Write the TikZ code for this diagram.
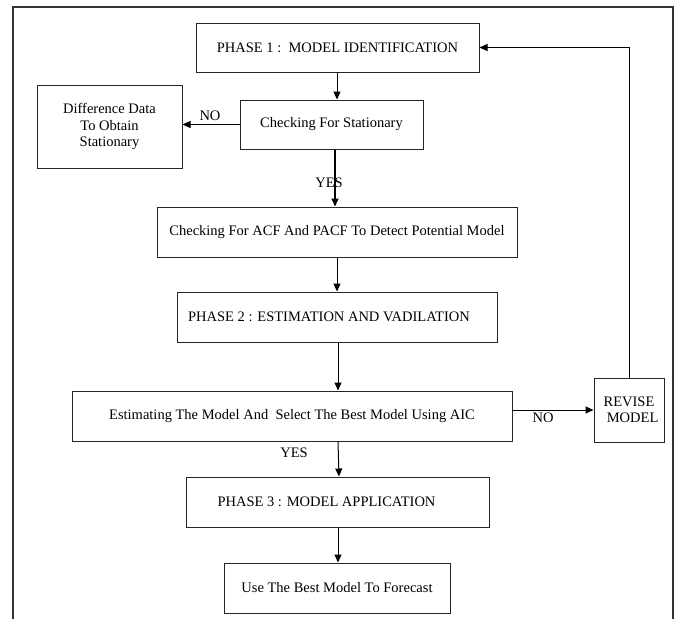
\documentclass[tikz,border=0pt]{standalone}
\usepackage{fontspec}
\setmainfont{Liberation Serif}
\usetikzlibrary{arrows.meta}
\begin{document}
\begin{tikzpicture}[x=1pt,y=-1pt,
  box/.style={draw=black!85,line width=1pt,inner sep=0pt,align=center,font=\fontsize{14.5}{16.5}\selectfont},
  arr/.style={draw=black,line width=1pt,-{Triangle[length=8pt,width=7pt]}},
  lbl/.style={inner sep=0pt,font=\fontsize{14.5}{16.5}\selectfont}]
\useasboundingbox (0,0) rectangle (675,619);
\draw[black!80,line width=1.2pt] (13,619) -- (13,7) -- (673,7) -- (673,619);
\node[box,minimum width=283,minimum height=49] (p1) at (337.5,47.5) {PHASE 1 :\ \ MODEL IDENTIFICATION};
\node[box,minimum width=145,minimum height=83] (diff) at (109.5,126.5) {Difference Data\\To Obtain\\Stationary};
\node[box,minimum width=183,minimum height=49] (chk) at (331.5,124.5) {Checking For Stationary};
\node[box,minimum width=360,minimum height=50] (acf) at (337,232) {Checking For ACF And PACF To Detect Potential Model};
\node[box,minimum width=320,minimum height=50] (p2) at (337,317) {PHASE 2 : ESTIMATION AND VADILATION\hspace{16pt}};
\node[box,minimum width=440,minimum height=50] (est) at (292,416) {Estimating The Model And\ \ Select The Best Model Using AIC};
\node[box,minimum width=70,minimum height=64] (rev) at (629,410) {REVISE\\\ \ MODEL};
\node[box,minimum width=303,minimum height=50] (p3) at (337.5,502) {PHASE 3 : MODEL APPLICATION\hspace{22pt}};
\node[box,minimum width=226,minimum height=50] (fc) at (337,588) {Use The Best Model To Forecast};
\node[lbl] (no1) at (210,116) {NO};
\node[lbl] (yes1) at (329,183) {YES};
\node[lbl] (no2) at (543,418) {NO};
\node[lbl] (yes2) at (294,453) {YES};
\draw[arr] (p1.south -| 337,0) -- (chk.north -| 337,0);
\draw[arr] (chk.west) -- (diff.east |- chk.west);
\draw[arr,line width=1.8pt] (chk.south -| 335,0) -- (acf.north -| 335,0);
\draw[arr] (acf.south -| 337,0) -- (p2.north -| 337,0);
\draw[arr] (p2.south -| 338,0) -- (est.north -| 338,0);
\draw[arr] (est.east |- rev.west) -- (rev.west);
\draw[arr] (rev.north) |- (p1.east);
\draw[arr] (est.south -| 338,0) -- (p3.north -| 339,0);
\draw[arr] (p3.south -| 338,0) -- (fc.north -| 338,0);
\end{tikzpicture}
\end{document}
